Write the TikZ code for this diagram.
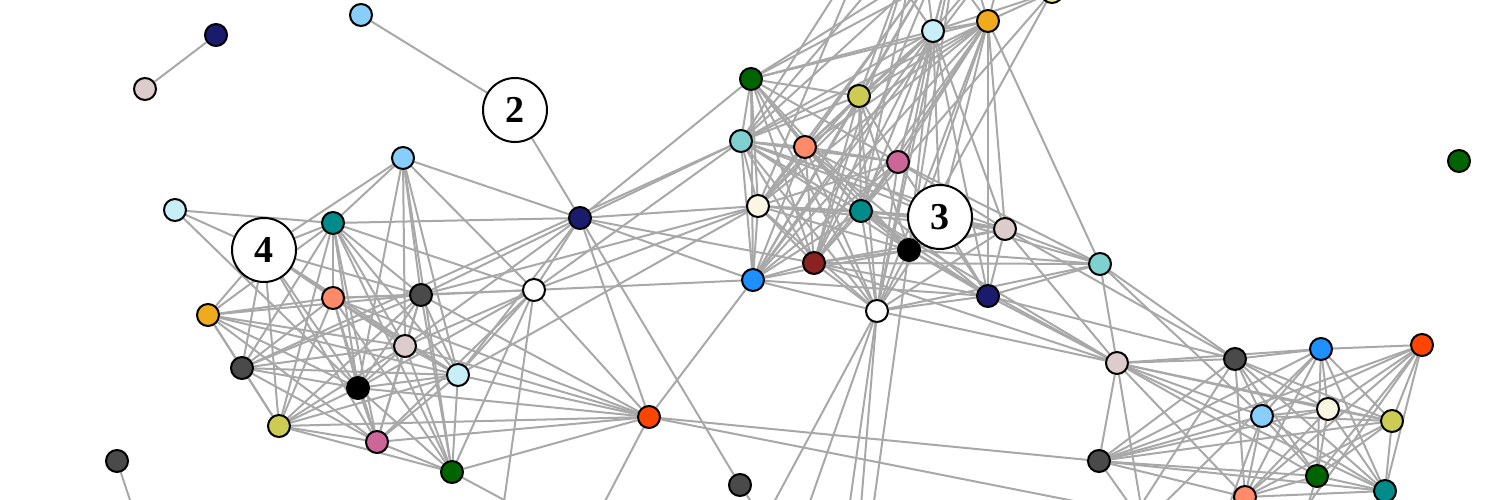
\documentclass[tikz,border=0pt]{standalone}
\usepackage{fontspec}
\setmainfont{Liberation Serif}
\usetikzlibrary{backgrounds}

\definecolor{navyc}{HTML}{1B1B6E}
\definecolor{rosec}{HTML}{DCCCCC}
\definecolor{skyc}{HTML}{87CEFA}
\definecolor{cyanc}{HTML}{C8EEF8}
\definecolor{tealc}{HTML}{008B8B}
\definecolor{salmonc}{HTML}{FF8A6A}
\definecolor{darkc}{HTML}{4A4A4A}
\definecolor{goldc}{HTML}{F0AA1E}
\definecolor{olivec}{HTML}{CCCC55}
\definecolor{pinkc}{HTML}{CC6699}
\definecolor{greenc}{HTML}{006400}
\definecolor{redc}{HTML}{FF4500}
\definecolor{turqc}{HTML}{7FD1D1}
\definecolor{creamc}{HTML}{FBF6E4}
\definecolor{bluec}{HTML}{1E90FF}
\definecolor{maroonc}{HTML}{8B2222}
\definecolor{khakic}{HTML}{EEEE99}
\definecolor{edgegray}{HTML}{A8A8A8}

\begin{document}
\begin{tikzpicture}[x=1pt, y=-1pt,
  vert/.style = {circle, draw=black, line width=2pt, minimum size=22pt,
                 inner sep=0pt},
  grp/.style  = {circle, draw=black, line width=2pt, fill=white,
                 minimum size=64pt, inner sep=0pt,
                 font=\fontsize{38}{38}\selectfont\bfseries},
  link/.style = {draw=edgegray, line width=2pt},
]
\useasboundingbox (0,0) rectangle (1500,500);

% group labels
\node[grp] (L2) at (515,110) {2};
\node[grp] (L3) at (940,217) {3};
\node[grp] (L4) at (264,250) {4};

% loose vertices
\node[vert, fill=navyc] (s1) at (216,35) {};
\node[vert, fill=rosec] (s2) at (145,89) {};
\node[vert, fill=skyc]  (s3) at (361,15) {};
\node[vert, fill=greenc] (zz) at (1459,161) {};

% group 4
\node[vert, fill=cyanc]   (lA) at (175,210) {};
\node[vert, fill=tealc]   (lB) at (333,223) {};
\node[vert, fill=skyc]    (lC) at (403,158) {};
\node[vert, fill=salmonc] (lD) at (333,298) {};
\node[vert, fill=darkc]   (lE) at (421,295) {};
\node[vert, fill=goldc]   (lF) at (208,315) {};
\node[vert, fill=darkc]   (lG) at (242,368) {};
\node[vert, fill=rosec]   (lH) at (405,346) {};
\node[vert, fill=black]   (lI) at (358,388) {};
\node[vert, fill=cyanc]   (lJ) at (458,375) {};
\node[vert, fill=olivec]  (lK) at (279,426) {};
\node[vert, fill=pinkc]   (lL) at (377,442) {};
\node[vert, fill=greenc]  (lM) at (452,472) {};
\node[vert, fill=darkc]   (lX) at (117,461) {};
\node[vert, fill=navyc]   (mN) at (580,218) {};
\node[vert, fill=white]   (mW) at (534,290) {};
\node[vert, fill=redc]    (mR) at (649,417) {};
\node[vert, fill=darkc]   (mG) at (740,485) {};

% group 3
\node[vert, fill=greenc]  (tA) at (751,79) {};
\node[vert, fill=olivec]  (tB) at (859,96) {};
\node[vert, fill=turqc]   (tC) at (741,141) {};
\node[vert, fill=salmonc] (tD) at (805,147) {};
\node[vert, fill=pinkc]   (tE) at (898,162) {};
\node[vert, fill=creamc]  (tF) at (758,206) {};
\node[vert, fill=tealc]   (tG) at (861,211) {};
\node[vert, fill=black]   (tH) at (909,250) {};
\node[vert, fill=maroonc] (tI) at (814,263) {};
\node[vert, fill=bluec]   (tJ) at (753,280) {};
\node[vert, fill=white]   (tK) at (877,311) {};
\node[vert, fill=navyc]   (tL) at (988,296) {};
\node[vert, fill=rosec]   (tM) at (1005,229) {};
\node[vert, fill=turqc]   (tN) at (1100,264) {};
\node[vert, fill=cyanc]   (tO) at (933,31) {};
\node[vert, fill=goldc]   (tP) at (988,21) {};
\node[vert, fill=khakic]  (tQ) at (1052,-8) {};

% right group
\node[vert, fill=rosec]   (rA) at (1117,363) {};
\node[vert, fill=darkc]   (rB) at (1235,359) {};
\node[vert, fill=bluec]   (rC) at (1321,349) {};
\node[vert, fill=redc]    (rD) at (1422,345) {};
\node[vert, fill=skyc]    (rE) at (1262,416) {};
\node[vert, fill=creamc]  (rF) at (1328,409) {};
\node[vert, fill=olivec]  (rG) at (1392,421) {};
\node[vert, fill=darkc]   (rH) at (1099,461) {};
\node[vert, fill=greenc]  (rI) at (1317,476) {};
\node[vert, fill=tealc]   (rJ) at (1385,491) {};
\node[vert, fill=salmonc] (rK) at (1245,497) {};

% ends outside the frame
\coordinate (u0) at (994,-50);
\coordinate (u1) at (870,-60);
\coordinate (u2) at (920,-70);
\coordinate (u3) at (960,-70);
\coordinate (u4) at (1010,-60);
\coordinate (u5) at (940,-40);
\coordinate (d0) at (140,530);
\coordinate (d1) at (560,530);
\coordinate (d2) at (500,530);
\coordinate (d3) at (590,530);
\coordinate (d4) at (770,530);
\coordinate (d5) at (759,530);
\coordinate (d6) at (800,530);
\coordinate (d7) at (846,530);
\coordinate (d8) at (859,530);
\coordinate (d9) at (870,530);
\coordinate (d10) at (1170,520);
\coordinate (d11) at (1145,530);
\coordinate (d12) at (1155,540);
\coordinate (d13) at (1220,530);
\coordinate (d14) at (1125,530);
\coordinate (d15) at (1137,530);
\coordinate (d16) at (1290,530);
\coordinate (d17) at (1400,530);
\coordinate (d18) at (1250,530);
\coordinate (d19) at (1300,530);

\begin{scope}[on background layer]
\clip (0,0) rectangle (1500,500);
% left side
\foreach \a/\bs in {s1/{s2}, s3/{L2}, L2/{mN}, lX/{d0},
    lA/{L4,lB,lI},
    L4/{lB,lC,lF,lG,lK,lD,lH,lI,lL,lE,lJ},
    lB/{lC,lD,lE,lF,lG,lH,lI,lJ,lK,lL,lM,mN,mW},
    lC/{lE,lH,lI,lJ,lM,mN,mW},
    lD/{lE,lF,lG,lH,lI,lJ,lK,lL,lM,mW,mR},
    lE/{lF,lG,lH,lI,lJ,lK,lL,lM,mW,mN,mR,tF},
    lF/{lG,lH,lI,lK,lJ,lL},
    lG/{lH,lI,lK,lL,lJ,tC},
    lH/{lI,lJ,lK,lL,lM,mW,mR,mN},
    lI/{lJ,lK,lL,lM,mW,mR},
    lJ/{lK,lL,lM,mW,mR,mN,tF},
    lK/{lL,lM,mR},
    lL/{lM,mR,mW},
    lM/{mR,mW,d1},
    mW/{mN,tJ,tC,tF,mR,d2},
    mN/{tA,tC,tF,tI,tJ,mR,mG},
    mR/{tJ,rH,d3,d10},
    mG/{d4}}
  \foreach \b in \bs \draw[link] (\a) -- (\b);
% group 3
\foreach \a/\bs in {
    tA/{tB,tC,tD,tE,tF,tG,tH,tI,tJ,tO,tP,u0,tK,u5},
    tB/{tC,tD,tF,tG,tI,tJ,tK,tH,tO,tP,u2,tE,u5},
    tC/{tD,tE,tF,tG,tH,tI,tJ,tK,tO,tP,u2,L3,tM,u1,u5},
    tD/{tE,tF,tG,tH,tI,tJ,tK,tO,tP,L3,tL,u3},
    tE/{tF,tG,tI,tJ,tK,tO,tP,tL,tM,tN,u3},
    tF/{tG,tH,tI,tJ,tK,tO,tP,tM,L3,u1,u5},
    tG/{tH,tI,tJ,tK,tL,tM,tO,tP,L3,u2,rA},
    L3/{tH,tK,tL,tM,tN,tO,tP},
    tH/{tI,tJ,tK,tL,tM,tN,tO,tP,u3,rA,d9},
    tI/{tJ,tK,tL,tM,tO,tP,tN,u2,rA,u5},
    tJ/{tK,tO,tP,tL,u4,u5},
    tK/{tL,tM,tN,tO,tP,u3,rA,d5,d6,d7,d8},
    tL/{tM,tN,tO,tP,rA,rB},
    tM/{tN,tO,tP,rA,rB},
    tN/{tP,rA,rB,rE},
    tO/{tP,u1,u2,u3,u4,tQ},
    tP/{u2,u3,u4,tQ},
    tQ/{tH,tG}}
  \foreach \b in \bs \draw[link] (\a) -- (\b);
% right group
\foreach \a/\bs in {
    rA/{rB,rH,rE,rF,rG,rK,rI,rJ,rC,d11},
    rB/{rC,rE,rF,rG,rI,rJ,rK,rH,d14},
    rC/{rD,rE,rF,rG,rI,rJ,rK,rH,d15},
    rD/{rE,rF,rG,rI,rJ,rK,rH,d16},
    rE/{rF,rG,rI,rJ,rK,rH,d13},
    rF/{rG,rI,rJ,rK,rH},
    rG/{rI,rJ,rK,rH},
    rH/{rI,rK,rJ,d12},
    rI/{rJ,rK,d19},
    rJ/{rK,d17},
    rK/{d18}}
  \foreach \b in \bs \draw[link] (\a) -- (\b);
\end{scope}
\end{tikzpicture}
\end{document}
